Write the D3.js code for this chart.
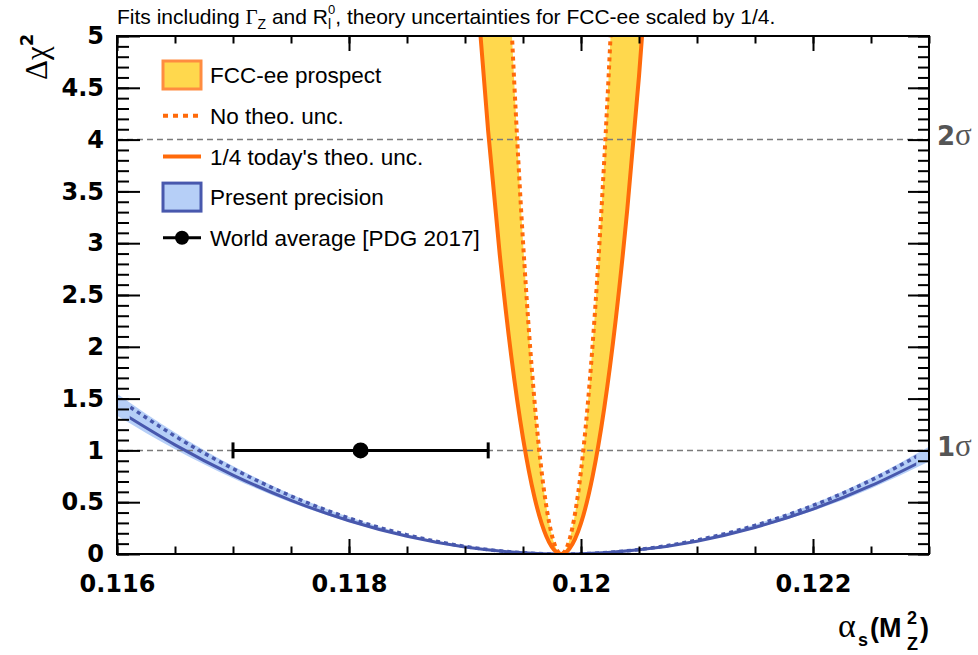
<!DOCTYPE html>
<html>
<head>
<meta charset="utf-8">
<script src="https://cdn.jsdelivr.net/npm/d3@7"></script>
<style>
body { margin: 0; background: #fff; }
text { font-family: "Liberation Sans", Arial, sans-serif; }
.tick text { font-family: "DejaVu Sans", sans-serif; font-weight: bold; font-size: 24px; fill: #000; }
</style>
</head>
<body>
<svg id="chart" width="978" height="655"></svg>
<script>
// Values

// present precision (blue), alpha_s grid
const presentAlpha = [0.116, 0.1165, 0.117, 0.1175, 0.118, 0.1185, 0.119, 0.1195, 0.12, 0.1205, 0.121, 0.1215, 0.122, 0.1225, 0.123];
const presentNoTheo = [1.503, 1.138, 0.824, 0.560, 0.347, 0.185, 0.073, 0.012, 0.002, 0.043, 0.134, 0.276, 0.469, 0.712, 1.006];
const presentTheo = [1.391, 1.053, 0.762, 0.518, 0.321, 0.171, 0.068, 0.011, 0.002, 0.040, 0.124, 0.256, 0.434, 0.659, 0.931];
const presentBandHi = [1.548, 1.172, 0.849, 0.577, 0.357, 0.191, 0.075, 0.012, 0.002, 0.044, 0.138, 0.284, 0.483, 0.733, 1.036];
const presentBandLo = [1.335, 1.011, 0.732, 0.497, 0.308, 0.164, 0.065, 0.011, 0.002, 0.038, 0.119, 0.246, 0.417, 0.633, 0.894];
const presentLineRange = [0.11611, 0.12289];

// FCC-ee prospect (orange / yellow)
const fccAlpha = [0.1190, 0.1191, 0.1192, 0.1193, 0.1194, 0.1195, 0.1196, 0.1197, 0.1198, 0.1199, 0.1200, 0.1201, 0.1202, 0.1203, 0.1204, 0.1205, 0.1206, 0.1207];
const fccNoTheo = [19.08, 14.76, 10.99, 7.781, 5.122, 3.017, 1.465, 0.468, 0.025, 0.136, 0.801, 2.019, 3.792, 6.119, 9.000, 12.43, 16.42, 20.97];
const fccTheo = [7.077, 5.474, 4.077, 2.886, 1.899, 1.119, 0.543, 0.174, 0.009, 0.050, 0.297, 0.749, 1.406, 2.269, 3.338, 4.611, 6.091, 7.776];

// world average [PDG 2017]
const worldAvg = 0.1181;
const worldAvgErr = 0.0011;

// sigma lines
const sigmaLevels = [1, 4];
const sigmaNames = ['1', '2'];

// ticks
const xMajorTicks = [0.116, 0.118, 0.12, 0.122];
const xTickLabels = ['0.116', '0.118', '0.12', '0.122'];
const yMajorTicks = [0, 0.5, 1, 1.5, 2, 2.5, 3, 3.5, 4, 4.5, 5];
const yTickLabels = ['0', '0.5', '1', '1.5', '2', '2.5', '3', '3.5', '4', '4.5', '5'];

// legend
const legendNames = ['FCC-ee prospect', 'No theo. unc.', "1/4 today's theo. unc.", 'Present precision', 'World average [PDG 2017]'];

// colours
const YELLOW = '#ffd84d';
const ORANGE = '#ff6a0a';
const ORANGE_EDGE = '#ff8c40';
const LIGHTBLUE = '#b6cff7';
const BLUE = '#4858ad';
const GRID_GREY = '#7a7a7a';

// frame edges (note: "top" is taken by window.top)
var padL = 117, padR = 929, padT = 36, padB = 554;

var svg = d3.select('#chart');

var x = d3.scaleLinear().domain([0.116, 0.123]).range([padL, padR]);
var y = d3.scaleLinear().domain([0, 5]).range([padB, padT]);

// clip for the data
var defs = svg.append('defs');
defs.append('clipPath').attr('id', 'plotclip')
    .append('rect')
    .attr('x', padL).attr('y', padT)
    .attr('width', padR - padL).attr('height', padB - padT);
defs.append('clipPath').attr('id', 'lineclip')
    .append('rect')
    .attr('x', x(presentLineRange[0])).attr('y', padT)
    .attr('width', x(presentLineRange[1]) - x(presentLineRange[0])).attr('height', padB - padT);

var plot = svg.append('g').attr('clip-path', 'url(#plotclip)');

// present precision band
var bandArea = d3.area()
    .x(function(d, i) { return x(presentAlpha[i]); })
    .y0(function(d, i) { return y(presentBandLo[i]); })
    .y1(function(d, i) { return y(presentBandHi[i]); })
    .curve(d3.curveNatural);

plot.append('path')
    .attr('d', bandArea(presentAlpha))
    .attr('fill', LIGHTBLUE);

// FCC-ee band (between the two orange curves)
var fccArea = d3.area()
    .x(function(d, i) { return x(fccAlpha[i]); })
    .y0(function(d, i) { return y(fccTheo[i]); })
    .y1(function(d, i) { return y(fccNoTheo[i]); })
    .curve(d3.curveNatural);

plot.append('path')
    .attr('d', fccArea(fccAlpha))
    .attr('fill', YELLOW);

// dashed sigma lines
plot.selectAll('.sigline')
    .data(sigmaLevels)
    .enter()
    .append('line')
    .attr('class', 'sigline')
    .attr('x1', padL).attr('x2', padR)
    .attr('y1', function(d) { return y(d); })
    .attr('y2', function(d) { return y(d); })
    .attr('stroke', GRID_GREY)
    .attr('stroke-width', 1.5)
    .attr('stroke-dasharray', '6,4');

// present precision lines
function curveLine(xs, ys) {
    return d3.line()
        .x(function(d, i) { return x(xs[i]); })
        .y(function(d, i) { return y(ys[i]); })
        .curve(d3.curveNatural)(xs);
}

var blueLines = plot.append('g').attr('clip-path', 'url(#lineclip)');
blueLines.append('path')
    .attr('d', curveLine(presentAlpha, presentTheo))
    .attr('fill', 'none')
    .attr('stroke', BLUE)
    .attr('stroke-width', 3);
blueLines.append('path')
    .attr('d', curveLine(presentAlpha, presentNoTheo))
    .attr('fill', 'none')
    .attr('stroke', BLUE)
    .attr('stroke-width', 3.5)
    .attr('stroke-dasharray', '4,4');

// FCC-ee lines
plot.append('path')
    .attr('d', curveLine(fccAlpha, fccTheo))
    .attr('fill', 'none')
    .attr('stroke', ORANGE)
    .attr('stroke-width', 4);
plot.append('path')
    .attr('d', curveLine(fccAlpha, fccNoTheo))
    .attr('fill', 'none')
    .attr('stroke', ORANGE)
    .attr('stroke-width', 4)
    .attr('stroke-dasharray', '4,4');

// world average
var wa = svg.append('g');
wa.append('line')
    .attr('x1', x(worldAvg - worldAvgErr)).attr('x2', x(worldAvg + worldAvgErr))
    .attr('y1', y(1)).attr('y2', y(1))
    .attr('stroke', '#000').attr('stroke-width', 3);
wa.selectAll('.cap')
    .data([worldAvg - worldAvgErr, worldAvg + worldAvgErr])
    .enter()
    .append('line')
    .attr('x1', function(d) { return x(d); })
    .attr('x2', function(d) { return x(d); })
    .attr('y1', y(1) - 8).attr('y2', y(1) + 8)
    .attr('stroke', '#000').attr('stroke-width', 3);
wa.append('circle')
    .attr('cx', x(worldAvg)).attr('cy', y(1)).attr('r', 8)
    .attr('fill', '#000');

// axes (ticks inside, on all four sides)
function styleAxis(g) {
    g.select('.domain').remove();
    g.selectAll('.tick line').attr('stroke', '#000').attr('stroke-width', 2);
}

var xMinor = d3.range(0, 15).map(function(i) { return 0.116 + i * 0.0005; });
var yMinor = d3.range(0, 51).map(function(i) { return i * 0.1; });

svg.append('g').attr('transform', 'translate(0,' + padB + ')')
    .call(d3.axisBottom(x).tickValues(xMinor).tickSize(-7.5).tickFormat(''))
    .call(styleAxis);
svg.append('g').attr('transform', 'translate(0,' + padB + ')')
    .call(d3.axisBottom(x).tickValues(xMajorTicks).tickSize(-15).tickPadding(21)
        .tickFormat(function(d, i) { return xTickLabels[i]; }))
    .call(styleAxis);
svg.append('g').attr('transform', 'translate(0,' + padT + ')')
    .call(d3.axisTop(x).tickValues(xMinor).tickSize(-7.5).tickFormat(''))
    .call(styleAxis);
svg.append('g').attr('transform', 'translate(0,' + padT + ')')
    .call(d3.axisTop(x).tickValues(xMajorTicks).tickSize(-15).tickFormat(''))
    .call(styleAxis);

svg.append('g').attr('transform', 'translate(' + padL + ',0)')
    .call(d3.axisLeft(y).tickValues(yMinor).tickSize(-12).tickFormat(''))
    .call(styleAxis);
svg.append('g').attr('transform', 'translate(' + padL + ',0)')
    .call(d3.axisLeft(y).tickValues(yMajorTicks).tickSize(-23).tickPadding(13)
        .tickFormat(function(d, i) { return yTickLabels[i]; }))
    .call(styleAxis);
svg.append('g').attr('transform', 'translate(' + padR + ',0)')
    .call(d3.axisRight(y).tickValues(yMinor).tickSize(-11).tickFormat(''))
    .call(styleAxis);
svg.append('g').attr('transform', 'translate(' + padR + ',0)')
    .call(d3.axisRight(y).tickValues(yMajorTicks).tickSize(-21).tickFormat(''))
    .call(styleAxis);

// frame
svg.append('rect')
    .attr('x', padL).attr('y', padT)
    .attr('width', padR - padL).attr('height', padB - padT)
    .attr('fill', 'none').attr('stroke', '#000').attr('stroke-width', 2);

// sigma labels on the right
var sig = svg.selectAll('.siglabel')
    .data(sigmaLevels)
    .enter()
    .append('text')
    .attr('class', 'siglabel')
    .attr('x', padR + 8)
    .attr('y', function(d) { return y(d); })
    .attr('dy', '0.36em')
    .attr('fill', '#555');
sig.append('tspan')
    .style('font-family', '"DejaVu Sans", sans-serif')
    .style('font-weight', 'bold')
    .style('font-size', '26px')
    .text(function(d, i) { return sigmaNames[i]; });
sig.append('tspan')
    .style('font-family', '"Liberation Serif", serif')
    .style('font-size', '31px')
    .text('σ');

// title
var title = svg.append('text')
    .attr('x', padL).attr('y', 24)
    .style('font-size', '21px');
title.append('tspan').text('Fits including ');
title.append('tspan').style('font-family', '"Liberation Serif", serif').text('Γ');
title.append('tspan').attr('dy', 5).style('font-size', '14px').text('Z');
title.append('tspan').attr('dy', -5).text(' and R');
title.append('tspan').attr('dy', 5).style('font-size', '14px').text('l');
title.append('tspan').attr('dx', -3).attr('dy', -15).style('font-size', '13px').text('0');
title.append('tspan').attr('dy', 10).text(', theory uncertainties for FCC-ee scaled by 1/4.');

// y axis title
var ylab = svg.append('text')
    .attr('transform', 'translate(47,80) rotate(-90)');
ylab.append('tspan')
    .style('font-family', '"Liberation Serif", serif')
    .style('font-size', '31px')
    .text('Δχ');
ylab.append('tspan')
    .attr('dy', -14)
    .style('font-family', '"DejaVu Sans", sans-serif')
    .style('font-weight', 'bold')
    .style('font-size', '18px')
    .text('2');

// x axis title
var xlab = svg.append('g').style('font-family', '"DejaVu Sans", sans-serif').style('font-weight', 'bold');
xlab.append('text').attr('x', 838).attr('y', 637)
    .style('font-family', '"Liberation Serif", serif').style('font-weight', 'normal').style('font-size', '34px')
    .text('α');
xlab.append('text').attr('x', 858).attr('y', 646).style('font-size', '18px').text('s');
xlab.append('text').attr('x', 870).attr('y', 637).style('font-size', '27px').text('(M');
xlab.append('text').attr('x', 907).attr('y', 650).style('font-size', '18px').text('Z');
xlab.append('text').attr('x', 907).attr('y', 624).style('font-size', '18px').text('2');
xlab.append('text').attr('x', 920).attr('y', 637).style('font-size', '27px').text(')');

// legend
var legX = 163, legY0 = 75, legStep = 40.7;
var legend = svg.append('g');

legend.append('rect')
    .attr('x', legX).attr('y', legY0 - 14).attr('width', 38).attr('height', 28)
    .attr('fill', YELLOW).attr('stroke', ORANGE_EDGE).attr('stroke-width', 3);
legend.append('line')
    .attr('x1', legX).attr('x2', legX + 38)
    .attr('y1', legY0 + legStep).attr('y2', legY0 + legStep)
    .attr('stroke', ORANGE).attr('stroke-width', 4).attr('stroke-dasharray', '5,5');
legend.append('line')
    .attr('x1', legX).attr('x2', legX + 38)
    .attr('y1', legY0 + 2 * legStep).attr('y2', legY0 + 2 * legStep)
    .attr('stroke', ORANGE).attr('stroke-width', 4);
legend.append('rect')
    .attr('x', legX).attr('y', legY0 + 3 * legStep - 14).attr('width', 38).attr('height', 28)
    .attr('fill', LIGHTBLUE).attr('stroke', BLUE).attr('stroke-width', 3);
legend.append('line')
    .attr('x1', legX).attr('x2', legX + 38)
    .attr('y1', legY0 + 4 * legStep).attr('y2', legY0 + 4 * legStep)
    .attr('stroke', '#000').attr('stroke-width', 3);
legend.append('circle')
    .attr('cx', legX + 19).attr('cy', legY0 + 4 * legStep).attr('r', 7)
    .attr('fill', '#000');

legend.selectAll('.legtext')
    .data(legendNames)
    .enter()
    .append('text')
    .attr('class', 'legtext')
    .attr('x', 210)
    .attr('y', function(d, i) { return legY0 + i * legStep; })
    .attr('dy', '0.36em')
    .style('font-size', '22.5px')
    .text(function(d) { return d; });
</script>
</body>
</html>
